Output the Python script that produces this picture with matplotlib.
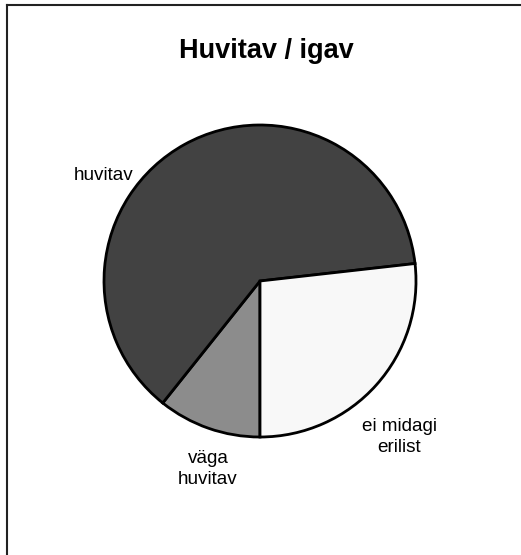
import matplotlib
matplotlib.use("Agg")
import matplotlib.pyplot as plt

# andmed (loetud pildilt)
kategooriad = ["väga huvitav", "huvitav", "ei midagi erilist"]
vastused = [6, 35, 15]
sildid = ["väga\nhuvitav", "huvitav", "ei midagi\nerilist"]
varvid = ["#8c8c8c", "#424242", "#f8f8f8"]

W, H = 521, 555
plt.rcParams['font.family'] = ['Liberation Sans', 'DejaVu Sans']

fig = plt.figure(figsize=(W / 100, H / 100), dpi=100)
ax = fig.add_axes([0, 0, 1, 1])

# pilt ülalt alla -> matplotlibi y
def y(v):
    return H - v

ax.pie(vastused, colors=varvid, startangle=-90, counterclock=False,
       center=(260, y(281)), radius=156, frame=True,
       wedgeprops=dict(edgecolor='black', linewidth=2))
ax.set_xlim(0, W)
ax.set_ylim(0, H)
ax.set_aspect('equal')
ax.axis('off')

# sildid pirukast väljas
sildi_kohad = [(208, 469), (104, 176), (399, 437)]
for tekst, (sx, sy) in zip(sildid, sildi_kohad):
    ax.text(sx, y(sy), tekst, ha='center', va='center', fontsize=13.6,
            linespacing=1.25)

ax.text(266, y(58), "Huvitav / igav", ha='center', va='baseline',
        fontsize=19.5, fontweight='bold')

# raam
ax.plot([7, 7], [y(5), y(H + 5)], color='#222222', lw=1.5, clip_on=False)
ax.plot([7, W + 5], [y(5), y(5)], color='#222222', lw=1.5, clip_on=False)

fig.savefig("out.png", dpi=100)
